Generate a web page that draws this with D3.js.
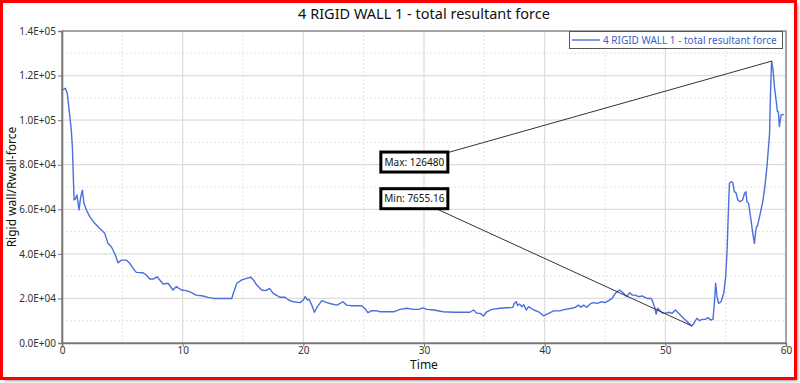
<!DOCTYPE html>
<html><head><meta charset="utf-8">
<script src="https://cdn.jsdelivr.net/npm/d3@7"></script>
<style>
html,body{margin:0;padding:0;background:#fff;}
svg text{font-family:"Noto Sans","Open Sans",sans-serif;}
</style></head>
<body>
<script>
const chartTitle = "4 RIGID WALL 1 - total resultant force";
const seriesName = "4 RIGID WALL 1 - total resultant force";
const xLabel = "Time";
const yLabel = "Rigid wall/Rwall-force";
const xTicks = [0,10,20,30,40,50,60];
const yTicks = [0,20000,40000,60000,80000,100000,120000,140000];
const yTickLabels = ["0.0E+00","2.0E+04","4.0E+04","6.0E+04","8.0E+04","1.0E+05","1.2E+05","1.4E+05"];
const xMinorTicks = [5,15,25,35,45,55];
const yMinorTicks = [10000,30000,50000,70000,90000,110000,130000];
const time = [0,0.28,0.44,0.77,0.86,1.0,1.1,1.24,1.41,1.55,1.69,1.82,2.02,2.3,2.71,3.12,3.54,3.81,4.09,4.42,4.64,4.92,5.33,5.61,5.89,6.16,6.72,6.99,7.27,7.55,7.88,8.1,8.38,8.79,9.2,9.48,9.9,10.3,10.7,11.1,11.7,12.1,12.55,13.4,14.07,14.2,14.49,14.9,15.3,15.65,15.86,16.14,16.55,16.9,17.2,17.5,18.08,18.5,18.77,19.18,19.73,20.0,20.15,20.34,20.48,20.7,20.92,21.17,21.53,21.95,22.36,22.78,23.05,23.27,23.6,24.0,24.84,25.1,25.35,25.68,26.03,26.37,27.47,28.03,28.58,29.13,29.55,29.9,30.24,30.8,31.6,32.44,33.8,34.1,34.38,34.66,34.93,35.2,35.63,36.32,36.87,37.37,37.48,37.65,37.76,37.92,38.12,38.26,38.48,38.67,39.1,39.5,39.9,40.2,40.75,41.3,41.7,42.26,42.54,42.8,43.0,43.22,43.5,43.84,44.06,44.34,44.75,45.0,45.3,45.58,45.86,46.2,46.4,46.6,46.8,47.05,47.24,47.5,47.8,48.07,48.5,48.8,48.9,49.1,49.24,49.37,49.5,49.73,50.0,50.28,50.56,50.83,51.1,51.38,51.8,52.2,52.4,52.62,52.84,53.04,53.3,53.54,53.73,53.95,54.06,54.17,54.28,54.42,54.62,54.84,55.0,55.12,55.2,55.31,55.45,55.58,55.72,55.86,56.0,56.2,56.4,56.57,56.68,56.76,56.9,57.1,57.23,57.38,57.52,57.65,57.87,58.1,58.28,58.42,58.53,58.64,58.7,58.76,58.81,58.93,59.04,59.18,59.29,59.37,59.45,59.59,59.76,59.8];
const force = [113500,114300,112000,95600,88000,64200,64500,66400,59700,65600,68600,62700,59700,56700,53700,51500,49200,44700,43200,39500,36000,37200,37200,35800,33500,31700,31500,30500,28700,28700,29700,28300,26500,26800,23800,25300,23800,23500,22700,21500,21100,20500,20000,20000,20000,22300,26800,28300,29000,29500,28300,26000,23800,23500,24500,22300,20500,20500,19300,18500,18100,19300,20800,19300,19600,17000,13800,16300,19000,18100,17500,17000,17800,18500,17000,16700,16700,15500,13600,14500,14500,14000,14000,15100,15600,15100,15100,15800,15100,14800,14000,13800,13800,14800,13300,13300,12100,14000,15100,15600,15800,16000,17800,18500,16800,17500,16300,17200,14800,16300,14800,14000,12200,13000,14400,14500,15100,15600,16000,17000,16000,17000,16000,17800,18100,17800,18500,18100,19000,20000,22300,23800,23000,22000,20800,22600,21500,21500,20800,21100,20000,20000,19300,16300,13000,15600,14800,13600,13300,13800,13300,14800,13300,11800,9600,7655.16,9100,11100,10000,10600,10600,11400,10300,10600,17800,26800,20800,17800,18500,22300,29700,41700,55200,71700,72400,72100,67900,67400,64200,63400,64200,67200,67900,63400,62700,55200,49900,44700,51500,52900,58200,64200,71700,79100,86600,94100,109000,119500,126480,122500,115000,109000,103800,103800,97100,102300,102600,102300];
const annotLabels = ["Max: 126480","Min: 7655.16"];
const annotAnchorT = [29.2, 29.2];
const annotAnchorV = [81200, 64750];

const W = 800, H = 383;
const m = {left:62, right:786, top:31, bottom:343};
const svg = d3.select("body").append("svg").attr("width",W).attr("height",H);
const defs = svg.append("defs");
const f = defs.append("filter").attr("id","sh").attr("x","-5%").attr("y","-5%").attr("width","110%").attr("height","110%");
f.append("feGaussianBlur").attr("stdDeviation",1.5);

svg.append("rect").attr("x",4).attr("y",4).attr("width",794).attr("height",377).attr("fill","#9a9a9a").attr("filter","url(#sh)");
svg.append("rect").attr("x",1.5).attr("y",1.5).attr("width",794).attr("height",377).attr("fill","#fff").attr("stroke","#ff0000").attr("stroke-width",3);

const x = d3.scaleLinear().domain([0,60]).range([m.left,m.right]);
const y = d3.scaleLinear().domain([0,140000]).range([m.bottom,m.top]);

// grid
const g = svg.append("g");
g.selectAll(".xmin").data(xMinorTicks).enter().append("line")
 .attr("x1",d=>x(d)).attr("x2",d=>x(d)).attr("y1",m.top).attr("y2",m.bottom)
 .attr("stroke","#e2e2e2").attr("stroke-dasharray","2,2");
g.selectAll(".ymin").data(yMinorTicks).enter().append("line")
 .attr("y1",d=>y(d)).attr("y2",d=>y(d)).attr("x1",m.left).attr("x2",m.right)
 .attr("stroke","#e2e2e2").attr("stroke-dasharray","2,2");
g.selectAll(".xmaj").data(xTicks).enter().append("line")
 .attr("x1",d=>x(d)).attr("x2",d=>x(d)).attr("y1",m.top).attr("y2",m.bottom)
 .attr("stroke","#dcdcdc").attr("stroke-width",1.2);
g.selectAll(".ymaj").data(yTicks).enter().append("line")
 .attr("y1",d=>y(d)).attr("y2",d=>y(d)).attr("x1",m.left).attr("x2",m.right)
 .attr("stroke","#dcdcdc").attr("stroke-width",1.2);

// frame
svg.append("rect").attr("x",m.left).attr("y",m.top).attr("width",m.right-m.left).attr("height",m.bottom-m.top)
 .attr("fill","none").attr("stroke","#777").attr("stroke-width",1.2);

// axes
const xAxis = svg.append("g").attr("transform",`translate(0,${m.bottom})`)
 .call(d3.axisBottom(x).tickValues(xTicks).tickSize(4).tickPadding(0).tickFormat(d3.format("d")));
const yAxis = svg.append("g").attr("transform",`translate(${m.left},0)`)
 .call(d3.axisLeft(y).tickValues(yTicks).tickSize(4).tickPadding(2).tickFormat((d,i)=>yTickLabels[i]));
[xAxis,yAxis].forEach(a=>{
  a.select(".domain").attr("stroke","#777").attr("stroke-width",1.6);
  a.selectAll(".tick line").attr("stroke","#777");
  a.selectAll(".tick text").attr("fill","#333").style("font-size","10px").style("font-family","'Noto Sans',sans-serif");
});

// line
const pts = time.map((t,i)=>({t, v:force[i]}));
svg.append("path").datum(pts).attr("fill","none").attr("stroke","#4a6fdc").attr("stroke-width",1.4)
 .attr("stroke-linejoin","round")
 .attr("d", d3.line().x(d=>x(d.t)).y(d=>y(d.v)));

// annotations
const maxP = pts.reduce((a,b)=>b.v>a.v?b:a);
const minP = pts.reduce((a,b)=>b.v<a.v?b:a);
const targets = [maxP, minP];
targets.forEach((p,i)=>{
  svg.append("line").attr("x1",x(annotAnchorT[i])).attr("y1",y(annotAnchorV[i]))
   .attr("x2",x(p.t)).attr("y2",y(p.v)).attr("stroke","#333").attr("stroke-width",1);
});
targets.forEach((p,i)=>{
  const cx = x(annotAnchorT[i]), cy = y(annotAnchorV[i]);
  const bw = 67, bh = 20;
  svg.append("rect").attr("x",cx-bw/2).attr("y",cy-bh/2).attr("width",bw).attr("height",bh)
   .attr("fill","#fff").attr("stroke","#000").attr("stroke-width",3);
  svg.append("text").attr("x",cx).attr("y",cy).attr("dy","0.35em").attr("text-anchor","middle")
   .style("font-size","10px").attr("fill","#111").text(annotLabels[i]);
});

// legend
svg.append("rect").attr("x",569.5).attr("y",31.5).attr("width",213).attr("height",17)
 .attr("fill","#fff").attr("stroke","#555").attr("stroke-width",1);
svg.append("line").attr("x1",572).attr("x2",600).attr("y1",40).attr("y2",40).attr("stroke","#4a6fdc").attr("stroke-width",1.4);
svg.append("text").attr("x",603).attr("y",40).attr("dy","0.35em").style("font-size","10px").attr("fill","#3a5fcd").text(seriesName);

// title & labels
svg.append("text").attr("x",(m.left+m.right)/2).attr("y",19).attr("text-anchor","middle")
 .style("font-size","14.5px").attr("fill","#111").text(chartTitle);
svg.append("text").attr("x",(m.left+m.right)/2).attr("y",369).attr("text-anchor","middle")
 .style("font-size","12px").attr("fill","#111").text(xLabel);
svg.append("text").attr("transform",`translate(16,${(m.top+m.bottom)/2}) rotate(-90)`).attr("text-anchor","middle")
 .style("font-size","12px").attr("fill","#111").text(yLabel);
</script>
</body></html>
